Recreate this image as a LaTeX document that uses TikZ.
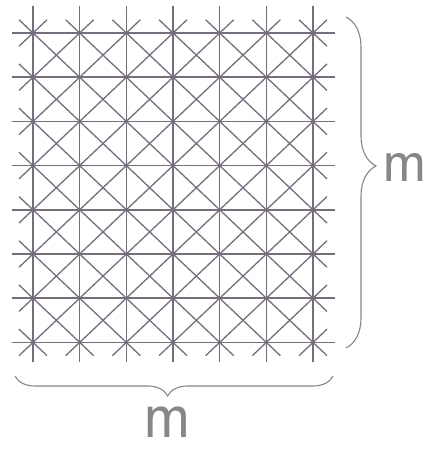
\documentclass[tikz,border=0pt]{standalone}
\usetikzlibrary{decorations.pathreplacing}
\definecolor{gridc}{RGB}{118,110,126}
\definecolor{bracec}{RGB}{135,135,135}
\begin{document}
\begin{tikzpicture}[x=1pt,y=-1pt,
  gl/.style={draw=gridc,line width=1.5pt},
  dl/.style={draw=gridc,line width=1.3pt},
  bracestyle/.style={draw=bracec,line width=1.1pt,decorate},
  lab/.style={text=bracec,inner sep=0pt,font=\sffamily\fontsize{40}{40}\selectfont}]
\useasboundingbox (0,0) rectangle (430,450);
\fill[white] (0,0) rectangle (430,450);
\begin{scope}[shift={(33,33)},x={(46.67pt,0pt)},y={(0pt,-44.2pt)}]
  \foreach \i in {0,...,6} \draw[gl] (\i,-0.62) -- (\i,7.45);
  \foreach \j in {0,...,7} \draw[gl] (-0.45,\j) -- (6.48,\j);
  \foreach \k in {-7,...,6}{
    \pgfmathsetmacro\is{max(0,\k)}
    \pgfmathsetmacro\ie{min(6,7+\k)}
    \draw[dl] ({\is-0.3},{\is-\k-0.3}) -- ({\ie+0.3},{\ie-\k+0.3});
  }
  \foreach \k in {0,...,13}{
    \pgfmathsetmacro\is{max(0,\k-7)}
    \pgfmathsetmacro\ie{min(6,\k)}
    \draw[dl] ({\is-0.3},{\k-\is+0.3}) -- ({\ie+0.3},{\k-\ie-0.3});
  }
\end{scope}
\coordinate (rb1) at (346,17);
\coordinate (rb2) at (346,348);
\draw[bracestyle,decoration={brace,amplitude=30pt,aspect=0.45}] (rb1) -- (rb2);
\coordinate (bb1) at (333,376);
\coordinate (bb2) at (15,376);
\draw[bracestyle,decoration={brace,amplitude=20pt,aspect=0.52}] (bb1) -- (bb2);
\node[lab] (mr) at (405,167) {\scalebox{1.5}[1.6]{m}};
\node[lab] (mb) at (167,422) {\scalebox{1.6}[1.75]{m}};
\end{tikzpicture}
\end{document}
